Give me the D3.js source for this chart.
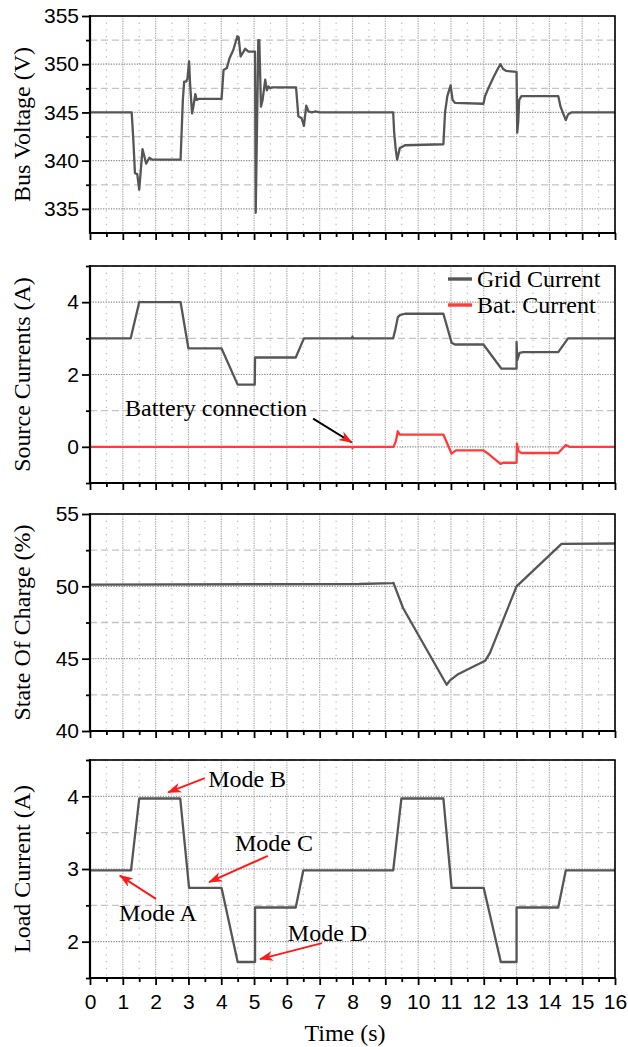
<!DOCTYPE html>
<html>
<head>
<meta charset="utf-8">
<script src="https://cdn.jsdelivr.net/npm/d3@7"></script>
<style>
  body { margin: 0; background: #fff; }
</style>
</head>
<body>
<svg id="vis"></svg>
<script>
// valores [tiempo (s), valor]
const timeTicks = [0, 1, 2, 3, 4, 5, 6, 7, 8, 9, 10, 11, 12, 13, 14, 15, 16];
const timeMinor = [0.5, 1.5, 2.5, 3.5, 4.5, 5.5, 6.5, 7.5, 8.5, 9.5, 10.5, 11.5, 12.5, 13.5, 14.5, 15.5];

const voltTicks = [335, 340, 345, 350, 355];
const voltMinor = [337.5, 342.5, 347.5, 352.5];
const sourceTicks = [0, 2, 4];
const sourceMinor = [-1, 1, 3, 5];
const socTicks = [40, 45, 50, 55];
const socMinor = [42.5, 47.5, 52.5];
const loadTicks = [2, 3, 4];
const loadMinor = [1.5, 2.5, 3.5, 4.5];

const busVoltage = [
  [0, 345], [1.27, 345], [1.32, 342.2], [1.37, 338.7], [1.44, 338.6], [1.5, 337],
  [1.6, 341.2], [1.71, 339.7], [1.81, 340.3], [1.9, 340.1], [2.76, 340.1],
  [2.83, 346.3], [2.87, 348.2], [2.93, 348.2], [2.97, 348.5], [3.02, 350.3],
  [3.05, 348], [3.11, 344.9], [3.15, 345.6], [3.21, 346.9], [3.25, 346.3],
  [3.31, 346.4], [4.01, 346.4], [4.07, 349.4], [4.17, 349.6], [4.25, 350.6],
  [4.37, 351.5], [4.49, 352.9], [4.53, 352.8], [4.59, 350.8], [4.73, 351.6],
  [4.83, 351.3], [5.03, 351.3], [5.05, 334.6], [5.13, 352.5], [5.16, 352.5],
  [5.21, 345.6], [5.26, 346.3], [5.34, 348.4], [5.39, 347.3], [5.44, 347.7],
  [5.49, 347.5], [5.55, 347.6], [6.28, 347.6], [6.35, 344.6], [6.45, 344.4],
  [6.52, 343.6], [6.59, 345.7], [6.66, 345.1], [6.76, 345.0], [6.86, 345.1],
  [7, 345], [9.24, 345], [9.27, 342.9], [9.32, 341.1], [9.36, 340.1],
  [9.44, 341.3], [9.6, 341.6], [10.77, 341.7], [10.82, 345], [10.89, 346.7],
  [10.99, 347.8], [11.05, 346.3], [11.12, 346], [11.99, 345.9], [12.04, 346.7],
  [12.14, 347.5], [12.29, 348.6], [12.44, 349.6], [12.51, 350], [12.59, 349.5],
  [12.69, 349.3], [13.0, 349.2], [13.02, 342.9], [13.05, 344], [13.08, 346.3],
  [13.15, 346.7], [14.27, 346.7], [14.34, 345.6], [14.42, 344.9], [14.5, 344.2],
  [14.57, 344.8], [14.67, 345], [16, 345]
];

const gridCurrent = [
  [0, 3], [1.24, 3], [1.5, 4], [2.76, 4], [3.0, 2.72], [4.01, 2.72], [4.5, 1.72],
  [5.02, 1.72], [5.03, 2.47], [6.27, 2.47], [6.52, 3], [7.98, 3], [8.0, 3.05],
  [8.02, 3], [9.24, 3], [9.3, 3.22], [9.38, 3.58], [9.44, 3.64], [9.6, 3.68],
  [10.77, 3.68], [11.02, 2.88], [11.12, 2.83], [11.99, 2.83], [12.54, 2.16],
  [13.0, 2.16], [13.0, 2.9], [13.02, 2.39], [13.09, 2.6], [13.2, 2.62],
  [14.27, 2.62], [14.57, 3], [16, 3]
];

const batCurrent = [
  [0, 0], [7.99, 0], [8.0, -0.04], [8.01, 0], [9.25, 0], [9.32, 0.15],
  [9.38, 0.43], [9.44, 0.34], [10.77, 0.34], [11.02, -0.19], [11.15, -0.1],
  [11.99, -0.1], [12.15, -0.2], [12.51, -0.47], [12.59, -0.44], [13.0, -0.44],
  [13.01, 0.09], [13.06, -0.12], [13.15, -0.17], [14.27, -0.17], [14.5, 0.05],
  [14.62, 0], [16, 0]
];

const soc = [
  [0, 50.12], [8.2, 50.16], [9.2, 50.22], [9.25, 50.23], [9.28, 50.05],
  [9.54, 48.5], [10.87, 43.2], [10.97, 43.5], [11.2, 43.9], [12.04, 44.85],
  [12.19, 45.4], [13.0, 50.0], [14.37, 52.93], [16, 52.96]
];

const loadCurrent = [
  [0, 2.98], [1.25, 2.98], [1.5, 3.97], [2.75, 3.97], [3.02, 2.74], [4.01, 2.74],
  [4.5, 1.72], [5.03, 1.72], [5.03, 2.47], [6.27, 2.47], [6.5, 2.98], [9.24, 2.98],
  [9.49, 3.97], [10.77, 3.97], [11.02, 2.74], [12.0, 2.74], [12.52, 1.72],
  [13.0, 1.72], [13.0, 2.47], [14.27, 2.47], [14.5, 2.98], [16, 2.98]
];

// anotaciones en coordenadas de datos
const modeNotes = [
  { text: "Mode A", tx: 0.88, ty: 2.4, x1: 2.01, y1: 2.59, x2: 0.91, y2: 2.91 },
  { text: "Mode B", tx: 3.6, ty: 4.235, x1: 3.5, y1: 4.25, x2: 2.38, y2: 4.055 },
  { text: "Mode C", tx: 4.42, ty: 3.36, x1: 5.42, y1: 3.18, x2: 3.63, y2: 2.82 },
  { text: "Mode D", tx: 6.03, ty: 2.12, x1: 7.07, y1: 1.98, x2: 5.18, y2: 1.76 }
];
const batteryNote = { text: "Battery connection", tx: 1.07, ty: 1.06, x1: 6.8, y1: 0.78, x2: 7.98, y2: 0.12 };

const WIDTH = 628;
const HEIGHT = 1047;
const LEFT = 90;
const RIGHT = 615;
const GRAY = "#565656";
const RED = "#ff3c3c";
const SERIF = "'Liberation Serif', 'DejaVu Serif', serif";
const SANS = "'Liberation Sans', Arial, sans-serif";

const svg = d3.select("#vis").attr("width", WIDTH).attr("height", HEIGHT);

const defs = svg.append("defs");
defs.append("marker")
  .attr("id", "headRed")
  .attr("markerUnits", "userSpaceOnUse")
  .attr("viewBox", "0 0 14 10")
  .attr("refX", 13)
  .attr("refY", 5)
  .attr("markerWidth", 14)
  .attr("markerHeight", 10)
  .attr("orient", "auto")
  .append("path")
  .attr("d", "M0,0 L14,5 L0,10 L4,5 Z")
  .attr("fill", "#ff1a1a");

const x = d3.scaleLinear().domain([0, 16]).range([LEFT, RIGHT]);

const panels = [
  { top: 16, bottom: 233, domain: [332.5, 355], ticks: voltTicks, minor: voltMinor,
    label: "Bus Voltage (V)", series: [{ data: busVoltage, color: GRAY }] },
  { top: 266, bottom: 483, domain: [-1, 5], ticks: sourceTicks, minor: sourceMinor,
    label: "Source Currents (A)",
    series: [{ data: gridCurrent, color: GRAY, name: "Grid Current" },
             { data: batCurrent, color: RED, name: "Bat. Current" }] },
  { top: 514, bottom: 731, domain: [40, 55], ticks: socTicks, minor: socMinor,
    label: "State Of Charge (%)", series: [{ data: soc, color: GRAY }] },
  { top: 760, bottom: 978, domain: [1.5, 4.5], ticks: loadTicks, minor: loadMinor,
    label: "Load Current (A)", series: [{ data: loadCurrent, color: GRAY }] }
];

const scales = [];

panels.forEach((p, i) => {
  const y = d3.scaleLinear().domain(p.domain).range([p.bottom, p.top]);
  scales.push(y);
  const g = svg.append("g");

  // grilla vertical
  g.selectAll(".vminor").data(timeMinor).join("line")
    .attr("x1", (d) => x(d)).attr("x2", (d) => x(d))
    .attr("y1", p.top).attr("y2", p.bottom)
    .attr("stroke", "#b8b8b8").attr("stroke-width", 1.2)
    .attr("stroke-dasharray", "1.2 5.5");
  g.selectAll(".vmajor").data(timeTicks).join("line")
    .attr("x1", (d) => x(d)).attr("x2", (d) => x(d))
    .attr("y1", p.top).attr("y2", p.bottom)
    .attr("stroke", "#a2a2a2").attr("stroke-width", 1.2)
    .attr("stroke-dasharray", "1.2 1.2");

  // grilla horizontal
  g.selectAll(".hminor").data(p.minor).join("line")
    .attr("x1", LEFT).attr("x2", RIGHT)
    .attr("y1", (d) => y(d)).attr("y2", (d) => y(d))
    .attr("stroke", "#c4c4c4").attr("stroke-width", 1.3)
    .attr("stroke-dasharray", "7 4");
  g.selectAll(".hmajor").data(p.ticks).join("line")
    .attr("x1", LEFT).attr("x2", RIGHT)
    .attr("y1", (d) => y(d)).attr("y2", (d) => y(d))
    .attr("stroke", "#8c8c8c").attr("stroke-width", 1.2)
    .attr("stroke-dasharray", "1.3 1.3");

  // lineas
  const clipId = "clip" + i;
  defs.append("clipPath").attr("id", clipId)
    .append("rect")
    .attr("x", LEFT).attr("y", p.top)
    .attr("width", RIGHT - LEFT).attr("height", p.bottom - p.top);

  const line = d3.line().x((d) => x(d[0])).y((d) => y(d[1]));
  g.append("g").attr("clip-path", `url(#${clipId})`)
    .selectAll("path").data(p.series).join("path")
    .attr("d", (s) => line(s.data))
    .attr("fill", "none")
    .attr("stroke", (s) => s.color)
    .attr("stroke-width", 2.3)
    .attr("stroke-linejoin", "round");

  // marco
  g.append("rect")
    .attr("x", LEFT).attr("y", p.top)
    .attr("width", RIGHT - LEFT).attr("height", p.bottom - p.top)
    .attr("fill", "none").attr("stroke", "#000").attr("stroke-width", 1.6);

  // ejes Y
  const yMajor = g.append("g")
    .attr("transform", `translate(${LEFT},0)`)
    .call(d3.axisLeft(y).tickValues(p.ticks).tickSize(8).tickSizeOuter(0)
      .tickPadding(3).tickFormat(d3.format("d")));
  const yMin = g.append("g")
    .attr("transform", `translate(${LEFT},0)`)
    .call(d3.axisLeft(y).tickValues(p.minor).tickSize(4).tickSizeOuter(0).tickFormat(""));

  // ejes X
  const last = i === panels.length - 1;
  const xMajor = g.append("g")
    .attr("transform", `translate(0,${p.bottom})`)
    .call(d3.axisBottom(x).tickValues(timeTicks).tickSize(7).tickSizeOuter(0)
      .tickPadding(9).tickFormat(last ? d3.format("d") : ""));
  const xMin = g.append("g")
    .attr("transform", `translate(0,${p.bottom})`)
    .call(d3.axisBottom(x).tickValues(timeMinor).tickSize(4).tickSizeOuter(0).tickFormat(""));

  [yMajor, yMin, xMajor, xMin].forEach((a) => {
    a.select(".domain").remove();
    a.selectAll("line").attr("stroke", "#000").attr("stroke-width", 1.8);
    a.selectAll("text").attr("font-family", SANS).attr("font-size", 21).attr("fill", "#000");
  });

  // ejes gruesos
  g.append("line").attr("x1", LEFT).attr("x2", LEFT).attr("y1", p.top - 1).attr("y2", p.bottom + 1)
    .attr("stroke", "#000").attr("stroke-width", 2.2);
  g.append("line").attr("x1", LEFT - 1).attr("x2", RIGHT + 1).attr("y1", p.bottom).attr("y2", p.bottom)
    .attr("stroke", "#000").attr("stroke-width", 2.2);

  // titulo eje Y
  g.append("text")
    .attr("transform", `translate(30,${(p.top + p.bottom) / 2}) rotate(-90)`)
    .attr("text-anchor", "middle")
    .attr("font-family", SERIF)
    .attr("font-size", 24)
    .text(p.label);
});

// titulo eje X
svg.append("text")
  .attr("x", 345).attr("y", 1041)
  .attr("text-anchor", "middle")
  .attr("font-family", SERIF)
  .attr("font-size", 24)
  .text("Time (s)");

// leyenda
const leg = svg.append("g").attr("transform", `translate(448,${panels[1].top})`);
panels[1].series.forEach((s, i) => {
  leg.append("line")
    .attr("x1", 0).attr("x2", 24)
    .attr("y1", 13 + i * 26).attr("y2", 13 + i * 26)
    .attr("stroke", s.color).attr("stroke-width", 3.4);
  leg.append("text")
    .attr("x", 29).attr("y", 13 + i * 26).attr("dy", "0.33em")
    .attr("font-family", SERIF).attr("font-size", 24)
    .text(s.name);
});

// anotaciones de modos
const yLoad = scales[3];
const notes = svg.append("g");
notes.selectAll("line").data(modeNotes).join("line")
  .attr("x1", (d) => x(d.x1)).attr("y1", (d) => yLoad(d.y1))
  .attr("x2", (d) => x(d.x2)).attr("y2", (d) => yLoad(d.y2))
  .attr("stroke", "#ff1a1a").attr("stroke-width", 2)
  .attr("marker-end", "url(#headRed)");
notes.selectAll("text").data(modeNotes).join("text")
  .attr("x", (d) => x(d.tx)).attr("y", (d) => yLoad(d.ty)).attr("dy", "0.33em")
  .attr("font-family", SERIF).attr("font-size", 24)
  .text((d) => d.text);

// anotacion bateria
const ySrc = scales[1];
svg.append("line")
  .attr("x1", x(batteryNote.x1)).attr("y1", ySrc(batteryNote.y1))
  .attr("x2", x(batteryNote.x2)).attr("y2", ySrc(batteryNote.y2))
  .attr("stroke", "#000").attr("stroke-width", 2)
  .attr("marker-end", "url(#headRed)");
svg.append("text")
  .attr("x", x(batteryNote.tx)).attr("y", ySrc(batteryNote.ty)).attr("dy", "0.33em")
  .attr("font-family", SERIF).attr("font-size", 24)
  .text(batteryNote.text);
</script>
</body>
</html>
